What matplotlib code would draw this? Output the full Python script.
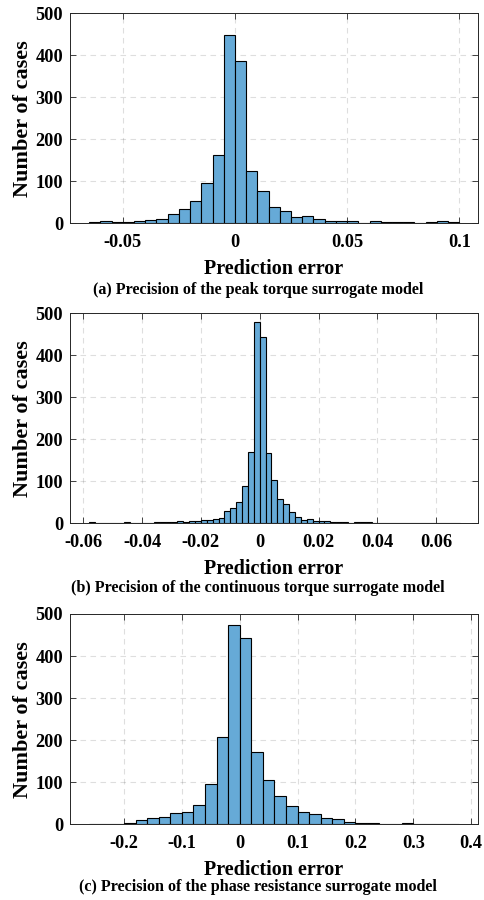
import numpy as np
import matplotlib
matplotlib.use('Agg')
import matplotlib.pyplot as plt

plt.rcParams['font.family'] = 'Liberation Serif'
plt.rcParams['font.weight'] = 'bold'
plt.rcParams['axes.unicode_minus'] = False

# (a) peak torque: bins of 0.005 starting at -0.065
peak_start, peak_width = -0.065, 0.005
peak_counts = [2, 5, 3, 3, 5, 8, 11, 23, 33, 52, 97, 162, 448,
               387, 124, 76, 40, 29, 15, 18, 11, 6, 6, 5, 1, 5, 4, 2, 2, 1, 2, 5, 2]
peak_ticks = [-0.05, 0, 0.05, 0.1]
peak_ticklabels = ['-0.05', '0', '0.05', '0.1']
peak_xlim = (-0.0735, 0.1083)

# (b) continuous torque: bins of 0.002 starting at -0.058
cont_start, cont_width = -0.058, 0.002
cont_counts = [2, 0, 0, 0, 0, 0, 2, 0, 1, 1, 1, 2, 3, 4, 2, 6, 3, 5, 5, 9,
               8, 10, 12, 29, 37, 50, 89, 170, 479,
               444, 167, 102, 58, 46, 26, 15, 9, 10, 5, 5, 5, 3, 3, 2, 0, 2, 2, 2, 1,
               0, 0, 1, 0, 0, 0, 0, 0, 1, 0, 1, 0, 1, 1]
cont_ticks = [-0.06, -0.04, -0.02, 0, 0.02, 0.04, 0.06]
cont_ticklabels = ['-0.06', '-0.04', '-0.02', '0', '0.02', '0.04', '0.06']
cont_xlim = (-0.0645, 0.0742)

# (c) phase resistance: bins of 0.02 starting at -0.26
res_start, res_width = -0.26, 0.02
res_counts = [1, 1, 1, 2, 10, 14, 17, 26, 29, 45, 95, 208, 474,
              444, 171, 105, 67, 43, 29, 24, 14, 12, 5, 4, 2, 1, 0, 4, 0, 1, 0, 1]
res_ticks = [-0.2, -0.1, 0, 0.1, 0.2, 0.3, 0.4]
res_ticklabels = ['-0.2', '-0.1', '0', '0.1', '0.2', '0.3', '0.4']
res_xlim = (-0.2933, 0.412)

captions = ['(a) Precision of the peak torque surrogate model',
            '(b) Precision of the continuous torque surrogate model',
            '(c) Precision of the phase resistance surrogate model']
y_ticks = [0, 100, 200, 300, 400, 500]

panels = [
    (peak_start, peak_width, peak_counts, peak_ticks, peak_ticklabels, peak_xlim),
    (cont_start, cont_width, cont_counts, cont_ticks, cont_ticklabels, cont_xlim),
    (res_start, res_width, res_counts, res_ticks, res_ticklabels, res_xlim),
]

W, H = 484, 900
fig = plt.figure(figsize=(W / 100, H / 100), dpi=100)

# axes boxes in pixels: top, bottom
boxes = [(13.3, 223.3), (313.3, 523.3), (614.0, 824.3)]
caption_y = [290, 588, 887]
left, right = 70, 478
dark = '#262626'

for (start, width, counts, ticks, ticklabels, xlim), (top, bot), cap, cy in zip(
        panels, boxes, captions, caption_y):
    ax = fig.add_axes([left / W, 1 - bot / H, (right - left) / W, (bot - top) / H])
    counts = np.array(counts)
    lefts = start + width * np.arange(len(counts))
    ax.bar(lefts, counts, width=width, align='edge', color='#66AAD7',
           edgecolor='black', linewidth=0.8)
    ax.set_xlim(*xlim)
    ax.set_ylim(0, 500)
    ax.set_xticks(ticks)
    ax.set_xticklabels(ticklabels)
    ax.set_yticks(y_ticks)
    ax.set_axisbelow(True)
    ax.grid(True, linestyle=(0, (5, 4)), color=dark, alpha=0.15, linewidth=0.8)
    ax.tick_params(direction='in', top=True, right=True, length=4, width=0.6,
                   color=dark, labelsize=13.2)
    ax.tick_params(axis='x', pad=8)
    ax.tick_params(axis='y', pad=5)
    for s in ax.spines.values():
        s.set_color(dark)
        s.set_linewidth(0.7)
    ax.set_xlabel('Prediction error', fontsize=14.5, fontweight='bold', labelpad=5.5)
    ax.set_ylabel('Number of cases', fontsize=16, fontweight='bold', labelpad=2)
    fig.text(258 / W, 1 - cy / H, cap, ha='center', va='center',
             fontsize=11.6, fontweight='bold')

fig.savefig('out.png', dpi=100)
